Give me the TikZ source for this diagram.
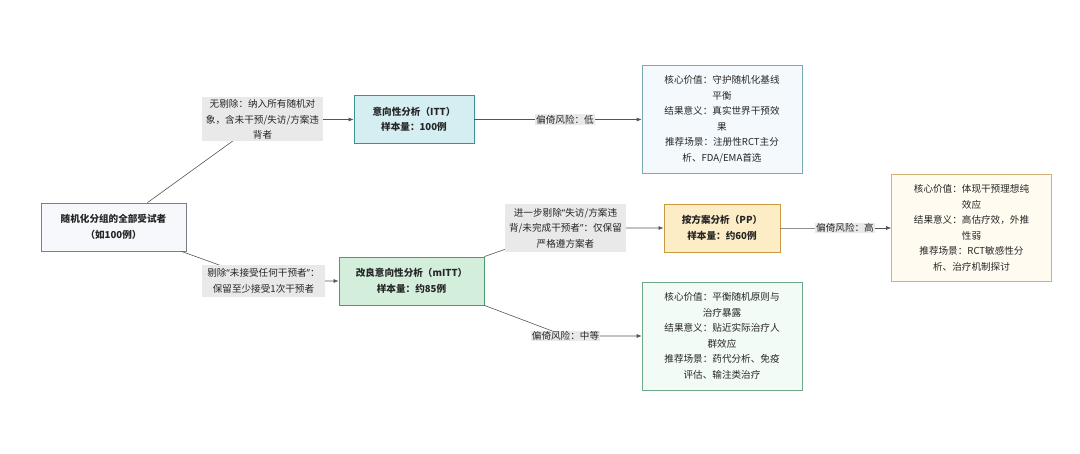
\documentclass[tikz,border=0pt]{standalone}
\usepackage{fontspec}
\setmainfont{Noto Sans CJK SC}
\newfontfamily\latinqt{Noto Sans}
\newcommand{\qtl}{{\latinqt “}}
\newcommand{\qtr}{{\latinqt ”}}
\usetikzlibrary{arrows.meta}

\definecolor{edgegray}{HTML}{555555}
\definecolor{lblfill}{HTML}{E9E9E9}
\definecolor{rootfill}{HTML}{F6F8FB}
\definecolor{rootline}{HTML}{7A7F87}
\definecolor{ittfill}{HTML}{D4EEF2}
\definecolor{ittline}{HTML}{3F8F96}
\definecolor{mittfill}{HTML}{D3EFDC}
\definecolor{mittline}{HTML}{4F9A6A}
\definecolor{ppfill}{HTML}{FDEDC6}
\definecolor{ppline}{HTML}{C99A3F}
\definecolor{ittinfofill}{HTML}{F3F9FD}
\definecolor{ittinfoline}{HTML}{7BA9B8}
\definecolor{mittinfofill}{HTML}{F2FBF5}
\definecolor{mittinfoline}{HTML}{6FA889}
\definecolor{ppinfofill}{HTML}{FFFBF1}
\definecolor{ppinfoline}{HTML}{D2B07A}

\tikzset{
	box/.style={draw, line width=0.8pt, align=center, inner sep=0pt, minimum height=48pt,
		font=\fontsize{9.6}{15.5}\selectfont\bfseries, text=black!85},
	infobox/.style={draw, line width=0.6pt, align=center, inner sep=0pt, minimum width=160pt,
		minimum height=108pt, font=\fontsize{9.6}{15.5}\selectfont, text=black!85},
	lbl/.style={fill=lblfill, align=center, inner sep=2pt, text=black!85,
		font=\fontsize{9.6}{15.5}\selectfont},
	arr/.style={draw=edgegray, line width=0.6pt, -{Latex[length=5pt,width=4pt]}}
}

\begin{document}
\begin{tikzpicture}[x=1pt, y=-1pt]
	\useasboundingbox (0,0) rectangle (1080,454);

	\node[box, fill=rootfill, draw=rootline, minimum width=145pt] (root) at (113.5,227) {随机化分组的全部受试者\\（如100例）};
	\node[box, fill=ittfill, draw=ittline, minimum width=120pt] (itt) at (414,119.5) {意向性分析（ITT）\\样本量：100例};
	\node[box, fill=mittfill, draw=mittline, minimum width=145pt] (mitt) at (411.5,281) {改良意向性分析（mITT）\\样本量：约85例};
	\node[box, fill=ppfill, draw=ppline, minimum width=116pt] (pp) at (722,228) {按方案分析（PP）\\样本量：约60例};

	\node[infobox, fill=ittinfofill, draw=ittinfoline] (ittinfo) at (722,119.5) {核心价值：守护随机化基线\\平衡\\结果意义：真实世界干预效\\果\\推荐场景：注册性RCT主分\\析、FDA/EMA首选};
	\node[infobox, fill=ppinfofill, draw=ppinfoline, minimum height=107pt] (ppinfo) at (971.5,228) {核心价值：体现干预理想纯\\效应\\结果意义：高估疗效，外推\\性弱\\推荐场景：RCT敏感性分\\析、治疗机制探讨};
	\node[infobox, fill=mittinfofill, draw=mittinfoline] (mittinfo) at (722,336) {核心价值：平衡随机原则与\\治疗暴露\\结果意义：贴近实际治疗人\\群效应\\推荐场景：药代分析、免疫\\评估、输注类治疗};

	\coordinate (l1) at (262.5,119.5);
	\coordinate (l2) at (263.5,281);
	\coordinate (l3) at (565,119.5);
	\coordinate (l4) at (565.5,228);
	\coordinate (l5) at (845,228);
	\coordinate (l6) at (565.5,336);

	\draw[arr] ([xshift=34pt]root.north) -- (l1) -- (itt.west);
	\draw[arr] ([xshift=68pt]root.south) -- (l2) -- (mitt.west);
	\draw[arr] (itt.east) -- (l3) -- (ittinfo.west);
	\draw[arr] (mitt.north east) -- (l4) -- (pp.west);
	\draw[arr] (pp.east) -- (l5) -- (ppinfo.west);
	\draw[arr] (mitt.south east) -- (l6) -- (mittinfo.west);

	\node[lbl, minimum width=121pt, minimum height=44pt] (lbl1) at (l1) {无剔除：纳入所有随机对\\象，含未干预/失访/方案违\\背者};
	\node[lbl, minimum width=123pt, minimum height=32pt] (lbl2) at (l2) {剔除\qtl 未接受任何干预者\qtr ：\\保留至少接受1次干预者};
	\node[lbl, inner sep=1pt] (lbl3) at (l3) {偏倚风险：低};
	\node[lbl, minimum width=121pt, minimum height=48pt] (lbl4) at (l4) {进一步剔除\qtl 失访/方案违\\背/未完成干预者\qtr ：仅保留\\严格遵方案者};
	\node[lbl, inner sep=1pt] (lbl5) at (l5) {偏倚风险：高};
	\node[lbl, inner sep=1pt] (lbl6) at (l6) {偏倚风险：中等};
\end{tikzpicture}
\end{document}
